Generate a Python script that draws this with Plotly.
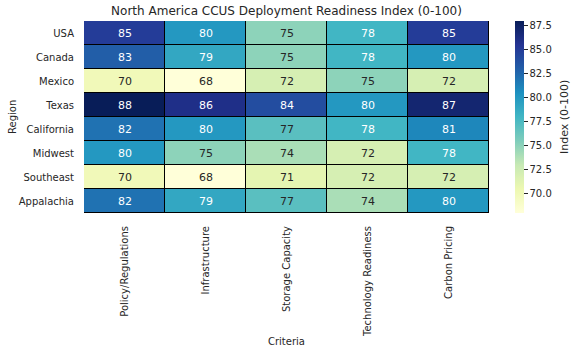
import plotly.graph_objects as go
import plotly.colors as pc

regions = ["USA", "Canada", "Mexico", "Texas", "California", "Midwest", "Southeast", "Appalachia"]
criteria = ["Policy/Regulations", "Infrastructure", "Storage Capacity", "Technology Readiness", "Carbon Pricing"]
usa = [85, 80, 75, 78, 85]
canada = [83, 79, 75, 78, 80]
mexico = [70, 68, 72, 75, 72]
texas = [88, 86, 84, 80, 87]
california = [82, 80, 77, 78, 81]
midwest = [80, 75, 74, 72, 78]
southeast = [70, 68, 71, 72, 72]
appalachia = [82, 79, 77, 74, 80]
z = [usa, canada, mexico, texas, california, midwest, southeast, appalachia]
cb_ticks = [70.0, 72.5, 75.0, 77.5, 80.0, 82.5, 85.0, 87.5]

zmin, zmax = 68, 88
font_family = "DejaVu Sans"
TXT = "#262626"

W, H = 576, 353
L, R, T, B = 84, 87, 21, 140
PW, PH = W - L - R, H - T - B


def px_x(px):
    return (px - L) / PW


def px_y(py):
    return (H - B - py) / PH


fig = go.Figure()
fig.add_trace(go.Heatmap(
    z=z, x=criteria, y=regions,
    colorscale=pc.sequential.YlGnBu,
    zmin=zmin, zmax=zmax,
    xgap=1, ygap=1,
    colorbar=dict(
        thickness=9, len=1.0, lenmode="fraction", y=0.5, yanchor="middle", ypad=0,
        x=px_x(515), xanchor="left", xpad=0,
        tickvals=cb_ticks, ticktext=[f"{v:.1f}" for v in cb_ticks],
        ticks="outside", ticklen=4, tickcolor=TXT,
        tickfont=dict(size=10, color=TXT),
        outlinewidth=0,
    ),
    hoverinfo="skip",
))

for i, r in enumerate(regions):
    for j, c in enumerate(criteria):
        v = z[i][j]
        fig.add_annotation(x=c, y=r, text=str(v), showarrow=False,
                           font=dict(size=11, color="white" if v >= 78 else TXT))

# axis titles and colorbar label
fig.add_annotation(xref="paper", yref="paper", x=px_x(286.5), y=px_y(341),
                   text="Criteria", showarrow=False, xanchor="center", yanchor="middle",
                   font=dict(size=10, color=TXT))
fig.add_annotation(xref="paper", yref="paper", x=px_x(12), y=px_y(117),
                   text="Region", showarrow=False, textangle=-90, xanchor="center", yanchor="middle",
                   font=dict(size=10, color=TXT))
fig.add_annotation(xref="paper", yref="paper", x=px_x(564), y=px_y(117),
                   text="Index (0-100)", showarrow=False, textangle=-90, xanchor="center", yanchor="middle",
                   font=dict(size=11, color=TXT))

fig.update_layout(
    width=W, height=H,
    margin=dict(l=L, r=R, t=T, b=B),
    plot_bgcolor="black", paper_bgcolor="white",
    font=dict(family=font_family, color=TXT),
    title=dict(text="North America CCUS Deployment Readiness Index (0-100)",
               x=286.5 / W, xanchor="center", y=1 - 11 / H, yanchor="middle",
               font=dict(size=12, color=TXT)),
)
fig.update_xaxes(tickangle=-90, tickfont=dict(size=10), ticks="outside", ticklen=8,
                 tickcolor="rgba(0,0,0,0)", showgrid=False, zeroline=False, automargin=False)
fig.update_yaxes(autorange="reversed", tickfont=dict(size=10), ticks="outside", ticklen=7,
                 tickcolor="rgba(0,0,0,0)", showgrid=False, zeroline=False, automargin=False)

fig.write_html("out.html")
